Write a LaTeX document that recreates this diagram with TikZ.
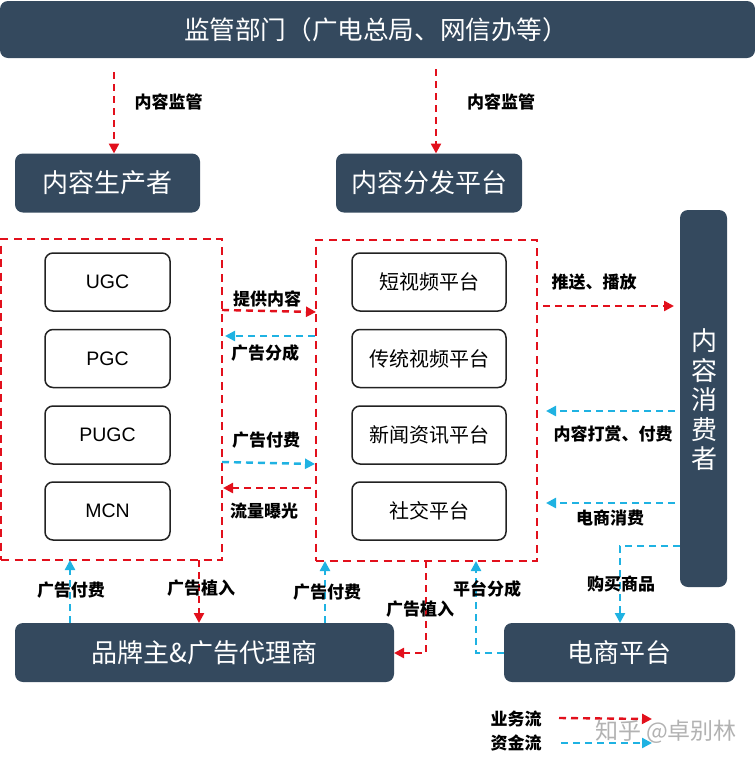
\documentclass[tikz,border=0pt]{standalone}
\usepackage{fontspec}
\setmainfont{Liberation Sans}
\newfontfamily\cjk{Noto Sans CJK SC}
\usetikzlibrary{arrows.meta,calc}
\definecolor{navy}{HTML}{34495E}
\definecolor{flowred}{HTML}{E2101C}
\definecolor{flowblue}{HTML}{1FB2E2}
\definecolor{inkline}{HTML}{222222}
\newcommand{\fs}[1]{\fontsize{#1}{#1}\selectfont}
\tikzset{
  x=1pt,y=-1pt,
  navybox/.style={fill=navy,rounded corners=8pt,text=white,inner sep=0pt,outer sep=0pt,font=\cjk\fs{26}},
  item/.style={draw=inkline,line width=1.5pt,fill=white,rounded corners=8pt,inner sep=0pt,outer sep=0pt,text=black},
  group/.style={draw=flowred,line width=2.5pt,dash pattern=on 8pt off 5.5pt,inner sep=0pt,outer sep=0pt},
  biz/.style={draw=flowred,line width=2.4pt,dash pattern=on 7pt off 5pt,-{Triangle[length=10pt,width=10pt,fill=flowred]}},
  cash/.style={draw=flowblue,line width=2.4pt,dash pattern=on 7pt off 5pt,-{Triangle[length=10pt,width=10pt,fill=flowblue]}},
  lab/.style={font=\cjk\bfseries\fs{17},text=black,inner sep=0pt},
}
\begin{document}
\begin{tikzpicture}
\useasboundingbox (0,0) rectangle (755,764);
% dark boxes
\node[navybox,minimum width=755pt,minimum height=57pt] (top) at (377.5,29.5) {};
\node[navybox,minimum width=185pt,minimum height=59pt] (prod) at (107.5,183) {内容生产者};
\node[navybox,minimum width=186pt,minimum height=59pt] (dist) at (429,183) {内容分发平台};
\node[navybox,minimum width=47pt,minimum height=377pt,align=center] (cons) at (703.5,398.5) {};
\node[navybox,minimum width=379pt,minimum height=59pt] (brand) at (204.5,652.5) {品牌主\&广告代理商};
\node[navybox,minimum width=231pt,minimum height=59pt] (shop) at (619.5,652.5) {电商平台};
\node[font=\cjk\fs{25.6},text=white,inner sep=0pt] (toptext) at (376,30) {监管部门（广电总局、网信办等）};
\foreach \c/\yy [count=\i] in {内/341,容/371,消/400,费/430,者/459}
  \node[font=\cjk\fs{26},text=white,inner sep=0pt] (c\i) at (704,\yy) {\c};
% dashed groups
\node[group,minimum width=221pt,minimum height=321pt] (left) at (111.5,399.5) {};
\node[group,minimum width=221pt,minimum height=321pt] (mid) at (426.5,400.5) {};
% items
\foreach \n/\t/\yy in {a/UGC/282,b/PGC/358.5,c/PUGC/435,d/MCN/511}
  \node[item,minimum width=125pt,minimum height=58pt,font=\fs{19.5}] (\n) at (107.5,\yy) {\t};
\foreach \n/\t/\yy in {e/短视频平台/282,f/传统视频平台/358.5,g/新闻资讯平台/435,h/社交平台/511}
  \node[item,minimum width=154pt,minimum height=58pt,font=\cjk\fs{20}] (\n) at (429,\yy) {\t};
% free ends
\coordinate (s1) at (114,72);
\coordinate (s2) at (436,69);
\coordinate (p1) at (222,310);  \coordinate (p2) at (316,312);
\coordinate (q1) at (315,336);  \coordinate (q2) at (225,336);
\coordinate (r1) at (222,462);  \coordinate (r2) at (315,464);
\coordinate (t1) at (311,488);  \coordinate (t2) at (223,488);
\coordinate (u1) at (543,306);  \coordinate (u2) at (674,306);
\coordinate (v1) at (675,411);  \coordinate (v2) at (546,411);
\coordinate (w1) at (675,503);  \coordinate (w2) at (546,503);
\coordinate (k1) at (620,546);
\coordinate (m1) at (426,653);
\coordinate (n1) at (476,653);
\coordinate (l1) at (559,718);  \coordinate (l2) at (652,719);
\coordinate (o1) at (561,743);  \coordinate (o2) at (652,743);
% regulator
\draw[biz] (s1) -- (s1 |- prod.north);
\draw[biz] (s2) -- (s2 |- dist.north);
% middle
\draw[biz] (p1) -- (p2);
\draw[cash] (q1) -- (q2);
\draw[cash] (r1) -- (r2);
\draw[biz] (t1) -- (t2);
\draw[biz] (u1) -- (u2);
\draw[cash] (v1) -- (v2);
\draw[cash] (w1) -- (w2);
\draw[cash] (cons.west |- k1) -- (k1) -- (k1 |- shop.north);
% bottom
\coordinate (b1) at (70,0); \coordinate (b2) at (199,0); \coordinate (b3) at (325,0);
\draw[cash] (b1 |- brand.north) -- (b1 |- left.south);
\draw[biz] (b2 |- left.south) -- (b2 |- brand.north);
\draw[cash] (b3 |- brand.north) -- (b3 |- mid.south);
\draw[biz] (m1 |- mid.south) -- (m1) -- (brand.east |- m1);
\draw[cash] (shop.west |- n1) -- (n1) -- (n1 |- mid.south);
% legend
\draw[biz] (l1) -- (l2);
\draw[cash] (o1) -- (o2);
% labels
\node[lab] (la1) at (168.5,102) {内容监管};
\node[lab] (la2) at (501,102) {内容监管};
\node[lab] (la3) at (267,299) {提供内容};
\node[lab] (la4) at (265,353) {广告分成};
\node[lab] (la5) at (266,440) {广告付费};
\node[lab] (la6) at (264,511) {流量曝光};
\node[lab] (la7) at (594,282) {推送、播放};
\node[lab] (la8) at (613,434) {内容打赏、付费};
\node[lab] (la9) at (610,518) {电商消费};
\node[lab] (la10) at (621,584) {购买商品};
\node[lab] (la11) at (71,590) {广告付费};
\node[lab] (la12) at (201,588) {广告植入};
\node[lab] (la13) at (327,592) {广告付费};
\node[lab] (la14) at (420,609) {广告植入};
\node[lab] (la15) at (487,589) {平台分成};
\node[lab] (la16) at (516,719) {业务流};
\node[lab] (la17) at (516,743) {资金流};
\node[font=\cjk\fs{23},text=black!30,inner sep=0pt] (mark) at (666,732) {知乎 @卓别林};
\end{tikzpicture}
\end{document}
